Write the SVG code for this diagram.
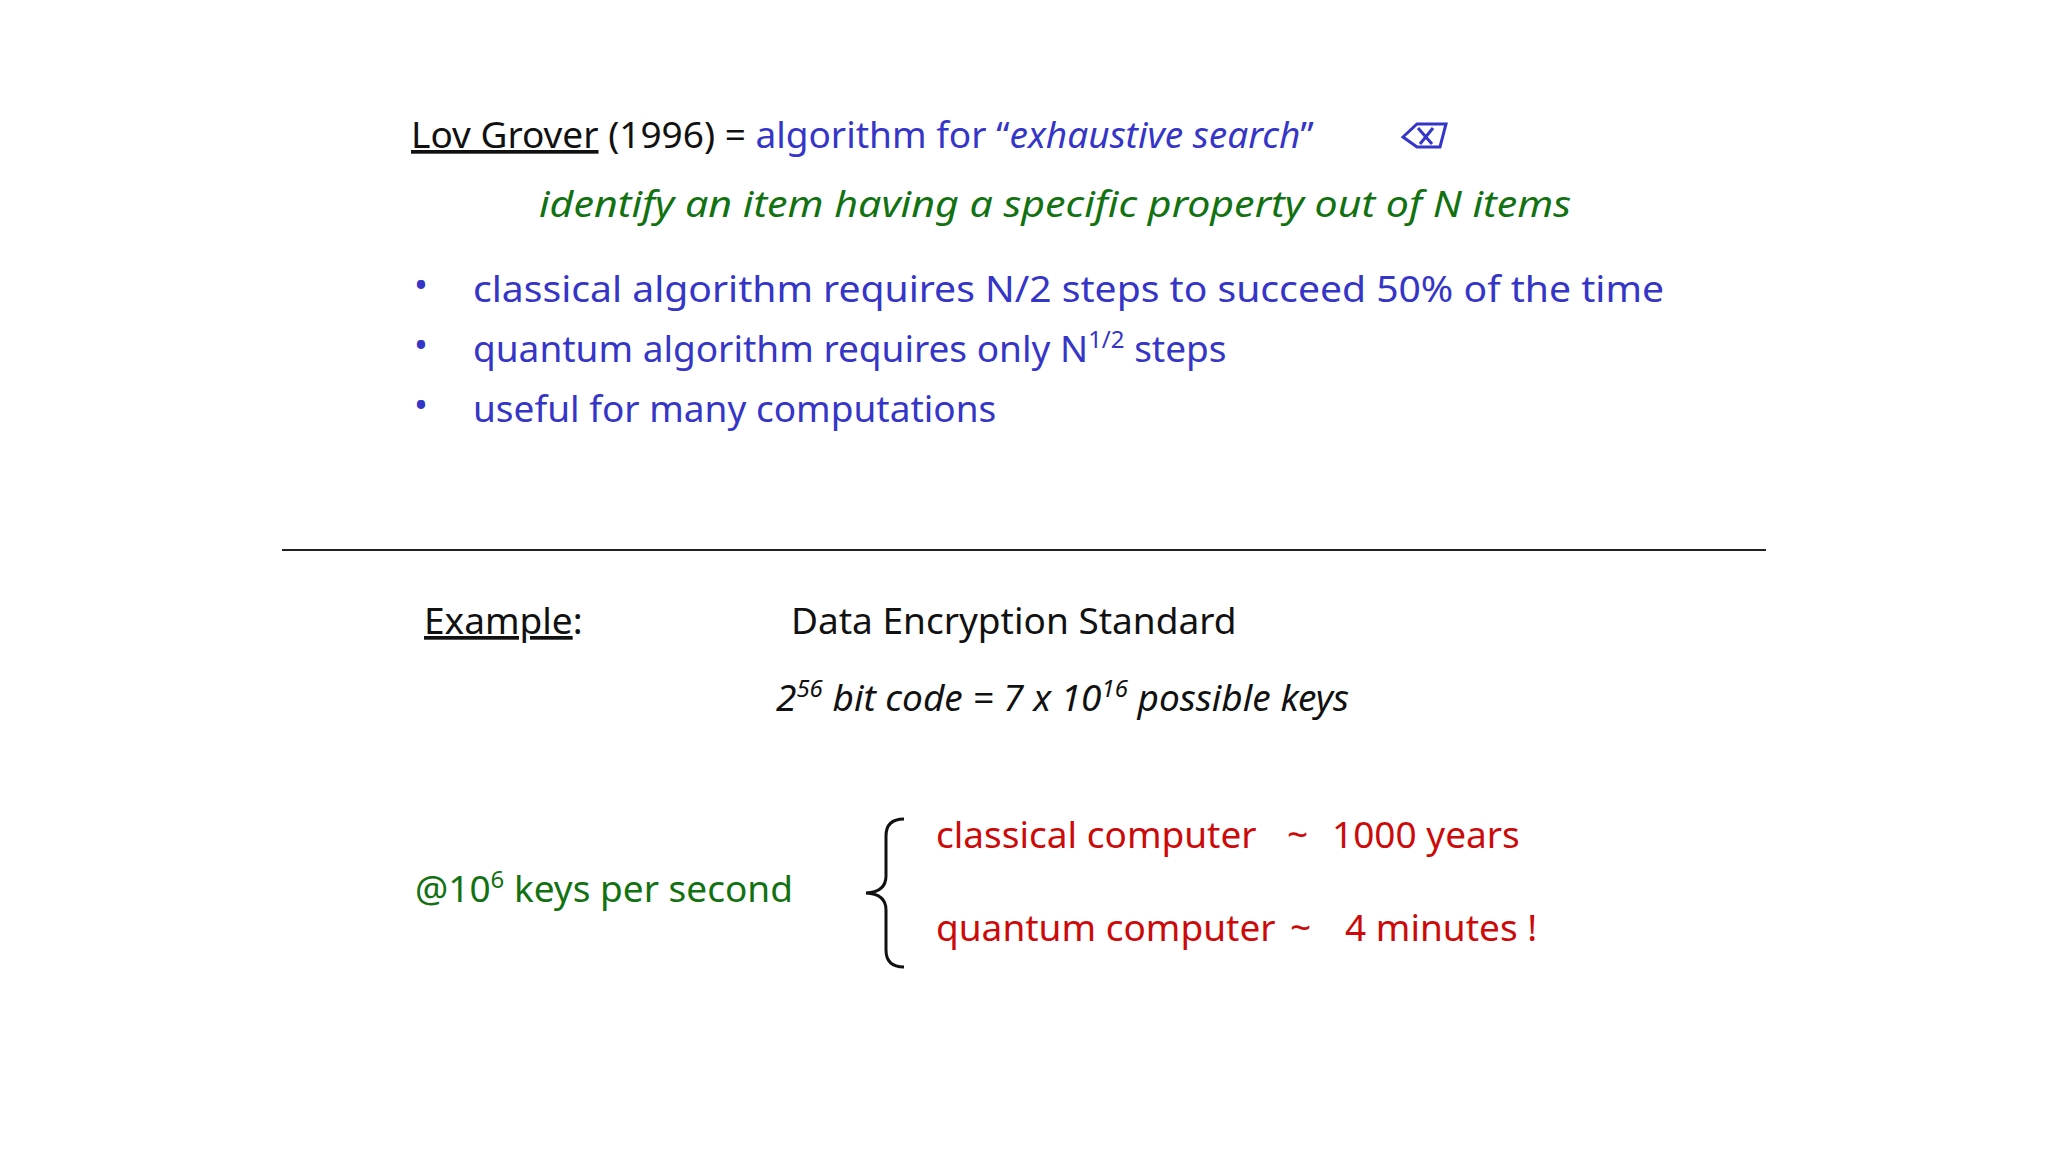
<svg xmlns="http://www.w3.org/2000/svg" width="2048" height="1152" viewBox="0 0 2048 1152">
<style>
text{font-family:"Noto Sans","DejaVu Sans",sans-serif;font-size:37px}
.k{fill:#111}.b{fill:#3535c8}.g{fill:#127212}.r{fill:#cc0a0a}.i{font-style:italic}
.sup{font-size:24px}
</style>
<rect width="2048" height="1152" fill="#fff"/>
<g id="title">
<text x="411" y="148" class="k"><tspan text-decoration="underline">Lov Grover</tspan> (1996) = <tspan class="b">algorithm for “<tspan class="i">exhaustive search</tspan>”</tspan></text>
<path d="M1403,137 L1417,124 L1446,124 L1440,147 L1417,147 Z M1418,128 L1432,144 M1433,128 L1420,144" fill="none" stroke="#3535c8" stroke-width="3"/>
</g>
<g id="subtitle"><text x="539" y="217" class="g i" textLength="1032" lengthAdjust="spacingAndGlyphs">identify an item having a specific property out of N items</text></g>
<g id="bullets">
<text x="414" y="298" class="b">•</text><text x="473" y="302" class="b" textLength="1191" lengthAdjust="spacingAndGlyphs">classical algorithm requires N/2 steps to succeed 50% of the time</text>
<text x="414" y="358" class="b">•</text><text x="473" y="362" class="b">quantum algorithm requires only N<tspan class="sup" dy="-14">1/2</tspan><tspan dy="14"> steps</tspan></text>
<text x="414" y="418" class="b">•</text><text x="473" y="422" class="b">useful for many computations</text>
</g>
<g id="connectors"><line x1="282" y1="550" x2="1766" y2="550" stroke="#222" stroke-width="2"/></g>
<g id="example">
<text x="424" y="634" class="k"><tspan text-decoration="underline">Example</tspan>:</text>
<text x="791" y="634" class="k">Data Encryption Standard</text>
<text x="776" y="711" class="k i">2<tspan class="sup" dy="-14">56</tspan><tspan dy="14"> bit code = 7 x 10</tspan><tspan class="sup" dy="-14">16</tspan><tspan dy="14"> possible keys</tspan></text>
</g>
<g id="rate"><text x="415" y="902" class="g">@10<tspan class="sup" dy="-14">6</tspan><tspan dy="14"> keys per second</tspan></text></g>
<g id="brace"><path d="M904,819 Q886,819 886,836 L886,876 Q886,892 866,893 Q886,894 886,910 L886,950 Q886,967 904,967" fill="none" stroke="#111" stroke-width="3"/></g>
<g id="results">
<text x="936" y="848" class="r">classical computer</text><text x="1287" y="848" class="r">~</text><text x="1332" y="848" class="r">1000 years</text>
<text x="936" y="941" class="r">quantum computer</text><text x="1290" y="941" class="r">~</text><text x="1345" y="941" class="r">4 minutes !</text>
</g>
</svg>
